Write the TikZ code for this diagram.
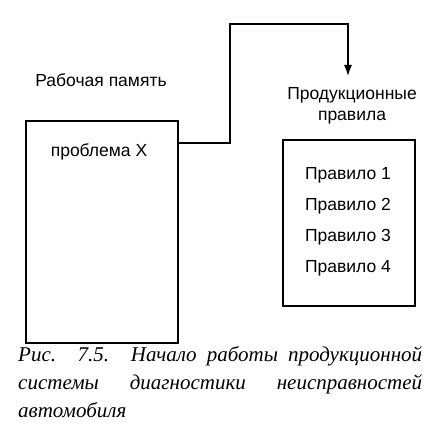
\documentclass[tikz,border=0pt]{standalone}
\usepackage{fontspec}
\setmainfont{Liberation Serif}
\setsansfont{Liberation Sans}
\usetikzlibrary{arrows.meta}
\tikzstyle{box}=[draw,line width=1.3pt,inner sep=0pt]
\tikzstyle{label}=[font=\sffamily\fontsize{17.5}{20}\selectfont,inner sep=0pt]

\begin{document}
\begin{tikzpicture}[x=1pt,y=-1pt]
\useasboundingbox (0,0) rectangle (429,446);
\node[box,minimum width=152pt,minimum height=222pt] at (102,232) (mem) {};
\node[box,minimum width=132pt,minimum height=166pt] at (349,223) (rules) {};
\node[label] at (101,80) (memname) {Рабочая память};
\node[label,align=center] at (352,106) (rulesname) {Продукционные\\[1pt]правила};
\node[label] at (99,152) (prob) {проблема X};
\node[label] at (348,175) (r1) {Правило 1};
\node[label] at (348,206) (r2) {Правило 2};
\node[label] at (348,237) (r3) {Правило 3};
\node[label] at (348,268) (r4) {Правило 4};
\coordinate (out) at (178,143);
\coordinate (in) at (348,76);
\coordinate (bend1) at (230,143);
\coordinate (bend2) at (230,24);
\coordinate (bend3) at (348,24);
\draw[-{Latex[length=11pt,width=8pt]},line width=1.3pt] (out) -- (bend1) -- (bend2) -- (bend3) -- (in);
\node[font=\itshape\fontsize{21}{28}\selectfont,text width=404pt,align=justify,inner sep=0pt,anchor=north west] at (18,346) (caption) {Рис. 7.5. Начало работы продукционной системы диагностики неисправностей автомобиля};
\end{tikzpicture}
\end{document}
